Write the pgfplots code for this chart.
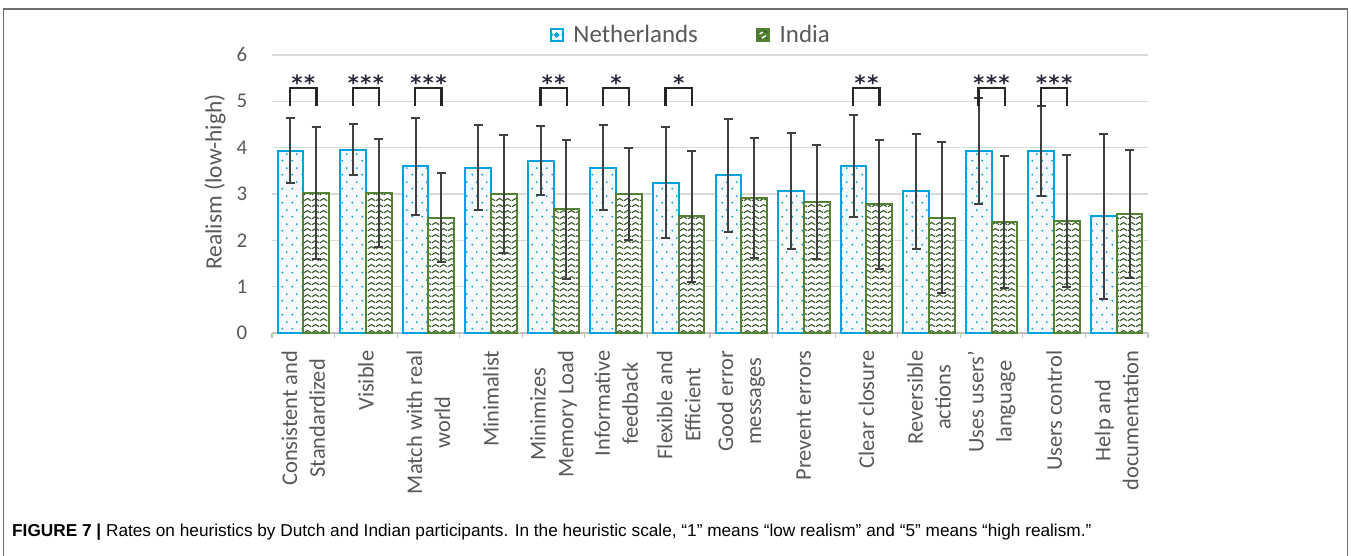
\documentclass[border=0pt]{standalone}
\usepackage{pgfplots}
\pgfplotsset{compat=1.18}
\usepackage{pgfplotstable}
\usepackage{fontspec}
\setmainfont{Carlito}
\newfontfamily\capfont{Liberation Sans}
\newfontfamily\starfont[LetterSpace=8]{DejaVu Sans}
\usetikzlibrary{patterns.meta}

\definecolor{nlblue}{RGB}{0,162,226}
\definecolor{ingreen}{RGB}{84,130,53}
\definecolor{wavegreen}{RGB}{50,85,35}
\definecolor{nlfill}{RGB}{246,249,250}
\definecolor{errgray}{RGB}{64,64,64}
\definecolor{txtgray}{RGB}{89,89,89}
\definecolor{gridgray}{RGB}{217,217,217}
\definecolor{axgray}{RGB}{191,191,191}
\definecolor{framegray}{RGB}{110,110,110}
\definecolor{stargray}{RGB}{40,40,60}

\pgfdeclarepattern{
  name=sdots, type=uncolored,
  bottom left={\pgfpoint{0bp}{0bp}}, top right={\pgfpoint{10bp}{14bp}},
  tile size={\pgfpoint{10bp}{14bp}},
  code={
    \pgfpathcircle{\pgfpoint{2.5bp}{3.5bp}}{1.1bp}
    \pgfpathcircle{\pgfpoint{7.5bp}{10.5bp}}{1.1bp}
    \pgfusepath{fill}
  }
}
\pgfdeclarepattern{
  name=wave, type=uncolored,
  bottom left={\pgfpoint{0bp}{0bp}}, top right={\pgfpoint{8bp}{6bp}},
  tile size={\pgfpoint{8bp}{6bp}},
  code={
    \pgfsetlinewidth{1.2bp}
    \pgfpathmoveto{\pgfpoint{0bp}{1.5bp}}
    \pgfpathcurveto{\pgfpoint{1.5bp}{1.5bp}}{\pgfpoint{2.5bp}{4bp}}{\pgfpoint{4bp}{4bp}}
    \pgfpathcurveto{\pgfpoint{5.5bp}{4bp}}{\pgfpoint{6.5bp}{1.5bp}}{\pgfpoint{8bp}{1.5bp}}
    \pgfusepath{stroke}
  }
}

\pgfplotstableread{
x  nl   nle  in   ine
0  3.93 0.70 3.02 1.43
1  3.96 0.56 3.02 1.17
2  3.60 1.05 2.49 0.96
3  3.57 0.91 3.00 1.28
4  3.72 0.75 2.67 1.50
5  3.57 0.91 3.00 0.99
6  3.24 1.20 2.52 1.41
7  3.40 1.22 2.91 1.29
8  3.06 1.25 2.82 1.23
9  3.60 1.10 2.78 1.39
10 3.06 1.24 2.49 1.63
11 3.93 1.15 2.40 1.42
12 3.93 0.98 2.42 1.42
13 2.52 1.78 2.56 1.38
}\datatable

\begin{document}
\begin{tikzpicture}
\path[use as bounding box] (0,0) rectangle (1351bp,556bp);
\draw[framegray, line width=1.3bp] (3.5bp,-5bp) -- (3.5bp,547bp) -- (1347.5bp,547bp) -- (1347.5bp,-5bp);
\node[anchor=base west, inner sep=0pt, font=\capfont\fontsize{17.3}{20}\selectfont] at (12bp,20bp)
  {{\bfseries FIGURE 7 |} Rates on heuristics by Dutch and Indian participants. In the heuristic scale, “1” means “low realism” and “5” means “high realism.”};
\begin{axis}[
  at={(272bp,223bp)}, anchor=south west,
  scale only axis, width=876bp, height=278bp,
  xmin=-0.5, xmax=13.5, ymin=0, ymax=6,
  ybar=0pt, bar width=0.41,
  clip=false,
  axis x line*=bottom, axis y line*=left,
  y axis line style={draw=none},
  x axis line style={draw=axgray, line width=1.5bp, -},
  ytick={0,...,6},
  ymajorgrids, grid style={gridgray, line width=1.2bp},
  major y tick style={draw=none},
  xtick={0,...,13},
  major x tick style={draw=none},
  minor xtick={-0.5,0.5,...,13.5},
  minor x tick style={draw=axgray, line width=1.2bp},
  minor tick length=5bp, tick align=outside,
  /pgf/number format/assume math mode=true,
  yticklabel style={font=\fontsize{21}{24}\selectfont, text=txtgray},
  yticklabel shift=17bp,
  xticklabel style={rotate=90, anchor=east, align=center, font=\fontsize{22.5}{28}\selectfont, text=txtgray},
  xticklabel shift=10bp,
  xticklabels={{Consistent and\\Standardized},{Visible},{Match with real\\world},{Minimalist},{Minimizes\\Memory Load},{Informative\\feedback},{Flexible and\\Efficient},{Good error\\messages},{Prevent errors},{Clear closure},{Reversible\\actions},{Uses users’\\language},{Users control},{Help and\\documentation}},
  ylabel={Realism (low-high)},
  ylabel style={font=\fontsize{23.5}{28}\selectfont, text=txtgray, at={(axis description cs:-0.065,0.543)}, anchor=center},
  legend style={at={(0.478,1.072)}, anchor=center, draw=none, fill=none, legend columns=2,
    font=\fontsize{25}{28}\selectfont, text=txtgray,
    /tikz/every odd column/.append style={column sep=8bp},
    /tikz/every even column/.append style={column sep=56bp}},
  error bars/y dir=both, error bars/y explicit,
  error bars/error bar style={errgray, line width=2bp},
  error bars/error mark options={rotate=90, mark size=4.5bp, errgray, line width=2bp},
]
\addplot[draw=nlblue, line width=2bp, fill=nlfill, postaction={pattern={sdots}, pattern color=nlblue},
  legend image code/.code={\draw[nlblue, fill=nlfill, line width=1.8bp] (0bp,-6bp) rectangle (12bp,6bp); \fill[nlblue] (6bp,0bp) circle (1.3bp);}]
  table[x=x, y=nl, y error=nle] \datatable;
\addlegendentry{Netherlands}
\addplot[draw=ingreen, line width=2bp, fill=white, postaction={pattern={wave}, pattern color=wavegreen},
  legend image code/.code={\draw[ingreen, fill=ingreen, line width=1.8bp] (0bp,-6bp) rectangle (12bp,6bp); \draw[white, line width=1.2bp] (3bp,1bp) -- (6bp,3bp) (5bp,-3bp) -- (9bp,-1bp);}]
  table[x=x, y=in, y error=ine] \datatable;
\addlegendentry{India}

\foreach \c/\s in {0/**,1/***,2/***,4/**,5/*,6/*,9/**,11/***,12/***}{
  \edef\temp{\noexpand\draw[black!85, line width=2.2bp] (axis cs:\c-0.21,4.9) |- (axis cs:\c,5.28) -| (axis cs:\c+0.21,4.9);
  \noexpand\node[font=\noexpand\starfont\noexpand\bfseries\noexpand\fontsize{21}{21}\noexpand\selectfont, text=stargray, anchor=base, inner sep=0pt] at (axis cs:\c,5.23) {\s};}
  \temp
}
\end{axis}
\end{tikzpicture}
\end{document}
